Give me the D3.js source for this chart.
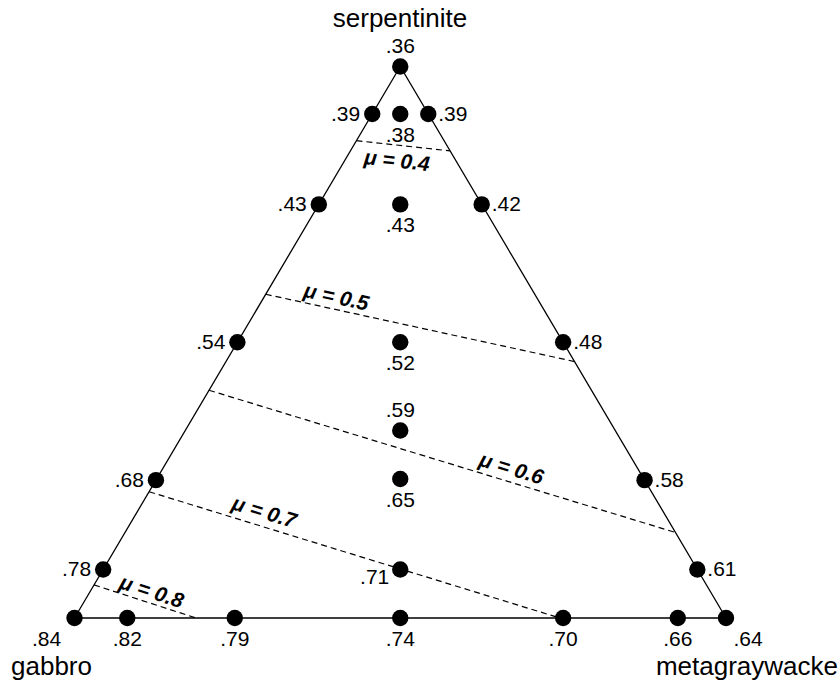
<!DOCTYPE html>
<html>
<head>
<meta charset="utf-8">
<script src="https://cdn.jsdelivr.net/npm/d3@7"></script>
<style>
  html, body { margin: 0; padding: 0; background: #fff; }
  svg text { font-family: "Liberation Sans", Arial, Helvetica, sans-serif; fill: #000; }
</style>
</head>
<body>
<svg id="chart" width="840" height="682"></svg>
<script>
// Corner (end-member) names
const corners = ["serpentinite", "gabbro", "metagraywacke"];

// Sample compositions as fractions [serpentinite, gabbro, metagraywacke]
const serpFrac = [1.000, 0.914, 0.750, 0.500, 0.250, 0.088, 0.000,
                  0.914, 0.750, 0.500, 0.250, 0.088, 0.000,
                  0.000, 0.000, 0.000, 0.000, 0.000,
                  0.914, 0.750, 0.500, 0.340, 0.252, 0.088];
const gabbroFrac = [0.000, 0.086, 0.250, 0.500, 0.750, 0.912, 1.000,
                    0.000, 0.000, 0.000, 0.000, 0.000, 0.000,
                    0.919, 0.754, 0.500, 0.250, 0.074,
                    0.043, 0.125, 0.250, 0.330, 0.374, 0.456];
const frictionValues = [".36", ".39", ".43", ".54", ".68", ".78", ".84",
                        ".39", ".42", ".48", ".58", ".61", ".64",
                        ".82", ".79", ".74", ".70", ".66",
                        ".38", ".43", ".52", ".59", ".65", ".71"];
const labelSide = ["top", "left", "left", "left", "left", "left", "corner-left",
                   "right", "right", "right", "right", "right", "corner-right",
                   "below", "below", "below", "below", "below",
                   "below", "below", "below", "above", "below", "lower-left"];

// Friction-coefficient contours: endpoint compositions [serpentinite, gabbro]
const muLabels = ["μ = 0.4", "μ = 0.5", "μ = 0.6", "μ = 0.7", "μ = 0.8"];
const muStartSerp = [0.8655, 0.587, 0.413, 0.229, 0.060];
const muStartGab  = [0.1345, 0.413, 0.587, 0.771, 0.940];
const muEndSerp   = [0.847, 0.465, 0.155, 0.000, 0.000];
const muEndGab    = [0.000, 0.000, 0.000, 0.255, 0.8135];

// label placement along contour (fraction) and perpendicular offset
const muLabelT   = [0.45, 0.22, 0.64, 0.27, 0.53];
const muLabelOff = [15, -13, -14, -15, -12];

const svg = d3.select("#chart");

// Ternary -> cartesian scales
const xScale = d3.scaleLinear().domain([0, 1]).range([74.5, 726]);
const yScale = d3.scaleLinear().domain([0, 1]).range([618, 66.5]);
function proj(s, g) {
  const m = 1 - s - g;
  return [xScale(m + s / 2), yScale(s)];
}

// Triangle outline
const tri = [proj(1, 0), proj(0, 1), proj(0, 0)];
svg.append("path")
  .attr("d", d3.line()(tri) + "Z")
  .attr("fill", "none")
  .attr("stroke", "#000")
  .attr("stroke-width", 1.3);

// Contours
muLabels.forEach((lab, i) => {
  const a = proj(muStartSerp[i], muStartGab[i]);
  const b = proj(muEndSerp[i], muEndGab[i]);
  svg.append("line")
    .attr("x1", a[0]).attr("y1", a[1])
    .attr("x2", b[0]).attr("y2", b[1])
    .attr("stroke", "#000")
    .attr("stroke-width", 1.2)
    .attr("stroke-dasharray", "6,4");
  const ang = Math.atan2(b[1] - a[1], b[0] - a[0]) * 180 / Math.PI;
  const t = muLabelT[i];
  const px = a[0] + t * (b[0] - a[0]);
  const py = a[1] + t * (b[1] - a[1]);
  svg.append("text")
    .attr("transform", `translate(${px},${py}) rotate(${ang})`)
    .attr("y", muLabelOff[i])
    .attr("dominant-baseline", "central")
    .attr("text-anchor", "middle")
    .attr("font-size", 21)
    .attr("font-weight", "bold")
    .attr("font-style", "italic")
    .text(lab);
});

// Points
const pts = serpFrac.map((s, i) => {
  const p = proj(s, gabbroFrac[i]);
  return { x: p[0], y: p[1], label: frictionValues[i], side: labelSide[i] };
});

svg.selectAll("circle.pt")
  .data(pts)
  .enter().append("circle")
  .attr("class", "pt")
  .attr("cx", d => d.x)
  .attr("cy", d => d.y)
  .attr("r", 8.2)
  .attr("fill", "#000");

const off = {
  "top":          { dx: 0,   dy: -14, anchor: "middle" },
  "left":         { dx: -12, dy: 7,   anchor: "end" },
  "right":        { dx: 10,  dy: 7,   anchor: "start" },
  "below":        { dx: 0,   dy: 28,  anchor: "middle" },
  "above":        { dx: 0,   dy: -13, anchor: "middle" },
  "lower-left":   { dx: -11, dy: 15,  anchor: "end" },
  "corner-left":  { dx: -28, dy: 28,  anchor: "middle" },
  "corner-right": { dx: 22,  dy: 28,  anchor: "middle" }
};

svg.selectAll("text.val")
  .data(pts)
  .enter().append("text")
  .attr("class", "val")
  .attr("x", d => d.x + off[d.side].dx)
  .attr("y", d => d.y + off[d.side].dy)
  .attr("text-anchor", d => off[d.side].anchor)
  .attr("font-size", 21)
  .text(d => d.label);

// Corner names
svg.append("text").attr("x", 400).attr("y", 27).attr("text-anchor", "middle")
  .attr("font-size", 26).text(corners[0]);
svg.append("text").attr("x", 11).attr("y", 675).attr("text-anchor", "start")
  .attr("font-size", 26).text(corners[1]);
svg.append("text").attr("x", 838).attr("y", 675).attr("text-anchor", "end")
  .attr("font-size", 26).text(corners[2]);
</script>
</body>
</html>
